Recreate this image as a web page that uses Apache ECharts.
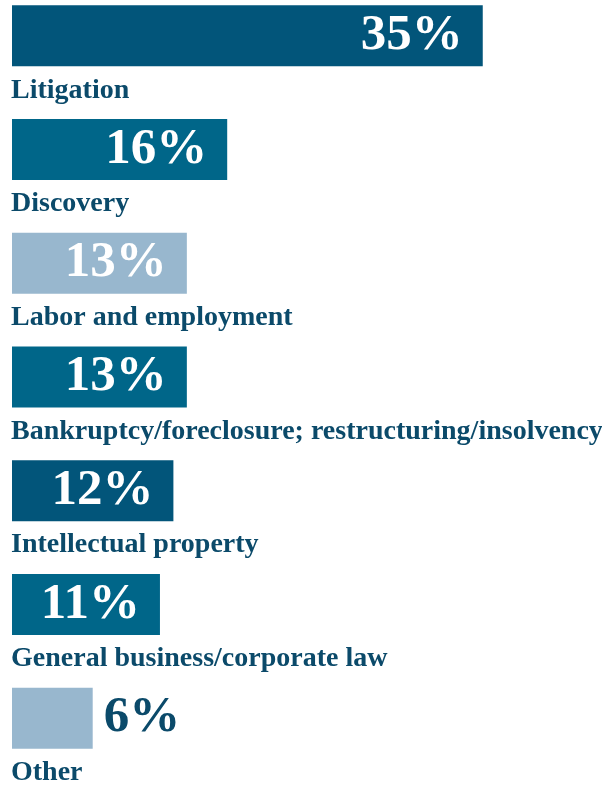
<!DOCTYPE html>
<html>
<head>
<meta charset="utf-8">
<script src="https://cdn.jsdelivr.net/npm/echarts@6/dist/echarts.min.js"></script>
<style>
  html, body { margin: 0; padding: 0; background: #fff; }
  #chart { width: 602px; height: 797px; }
</style>
</head>
<body>
<div id="chart"></div>
<script>
// practice areas, share of respondents (%)
const categories = [
  'Litigation',
  'Discovery',
  'Labor and employment',
  'Bankruptcy/foreclosure; restructuring/insolvency',
  'Intellectual property',
  'General business/corporate law',
  'Other'
]
const shares = [35, 16, 13, 13, 12, 11, 6]
const barColors = ['#02557a', '#006689', '#98b7ce', '#006689', '#02557a', '#006689', '#98b7ce']

const serif = "'Liberation Serif', 'DejaVu Serif', serif"
const labelColor = '#0b4a6a'

const chart = echarts.init(document.getElementById('chart'))

chart.setOption({
  animation: false,
  grid: {
    left: 12,
    right: 52,
    top: -21,
    height: 796,
    outerBoundsMode: 'none'
  },
  xAxis: {
    type: 'value',
    min: 0,
    max: 40,
    show: false
  },
  yAxis: {
    type: 'category',
    data: categories,
    inverse: true,
    show: false
  },
  series: [
    {
      // the bars with their percentage
      type: 'bar',
      barWidth: 61,
      data: shares.map((v, i) => {
        const item = { value: v, itemStyle: { color: barColors[i] } }
        // small bar: number sits outside
        if (v < 8) {
          item.label = { position: 'right', color: labelColor, distance: 11 }
        }
        return item
      }),
      label: {
        show: true,
        position: 'insideRight',
        distance: 20,
        formatter: '{c}%',
        color: '#fff',
        fontFamily: serif,
        fontSize: 51,
        fontWeight: 'bold'
      }
    },
    {
      // invisible copy that carries the category name below each bar
      type: 'bar',
      barWidth: 61,
      barGap: '-100%',
      silent: true,
      itemStyle: { color: 'transparent' },
      data: shares,
      label: {
        show: true,
        position: [-1, 85],
        align: 'left',
        verticalAlign: 'middle',
        formatter: p => categories[p.dataIndex],
        color: labelColor,
        fontFamily: serif,
        fontSize: 28,
        fontWeight: 'bold'
      }
    }
  ]
})
</script>
</body>
</html>
